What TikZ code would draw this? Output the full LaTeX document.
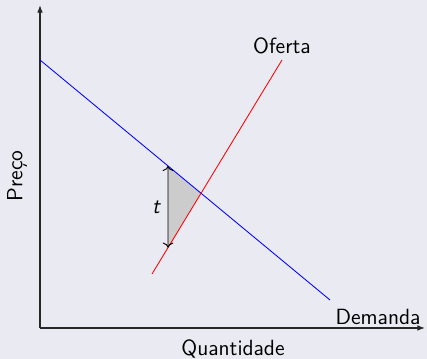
\documentclass[tikz,border=0pt]{standalone}
\usepackage{fontspec}
\usetikzlibrary{positioning,calc,arrows.meta}
\definecolor{bgcol}{RGB}{234,234,242}
\definecolor{axiscol}{RGB}{40,40,40}
\tikzset{
  axis/.style={draw=axiscol,line width=0.6pt,-{Latex[length=4pt,width=3pt]}},
  curve/.style={line width=0.45pt},
  lbl/.style={font=\fontsize{11.6pt}{14pt}\selectfont\sffamily,text=black}
}

\begin{document}
\begin{tikzpicture}[x=0.527pt,y=0.527pt]
  \fill[bgcol] (0,0) rectangle (427,359);
  \useasboundingbox (0,0) rectangle (427,359);
  % axes
  \coordinate (o) at (40,31);
  \coordinate (ytop) at (40,354);
  \coordinate (xend) at (425,31);
  \draw[axis] (o) -- (ytop);
  \draw[axis] (o) -- (xend);
  \node[lbl,rotate=90] (preco) at (17,183) {Preço};
  \node[lbl] (quant) at (233,10) {Quantidade};
  % demand and supply
  \coordinate (d1) at (40,299);
  \coordinate (d2) at (330,59);
  \coordinate (s1) at (152,85);
  \coordinate (s2) at (282,299);
  \coordinate (v1) at (168,0);
  \coordinate (v2) at (168,359);
  \coordinate (eq) at (intersection of d1--d2 and s1--s2);
  \coordinate (tup) at (intersection of d1--d2 and v1--v2);
  \coordinate (tdn) at (intersection of s1--s2 and v1--v2);
  \fill[black!20] (tup) -- (eq) -- (tdn) -- cycle;
  \draw[curve,blue] (d1) -- (d2);
  \draw[curve,red] (s1) -- (s2);
  \node[lbl] (oferta) at (282,313) {Oferta};
  \node[lbl] (demanda) at (378,42) {Demanda};
  % tax wedge
  \draw[<->,line width=0.5pt] (tup) -- (tdn);
  \node[lbl] (tlab) at (156,152) {\itshape t};
\end{tikzpicture}
\end{document}
